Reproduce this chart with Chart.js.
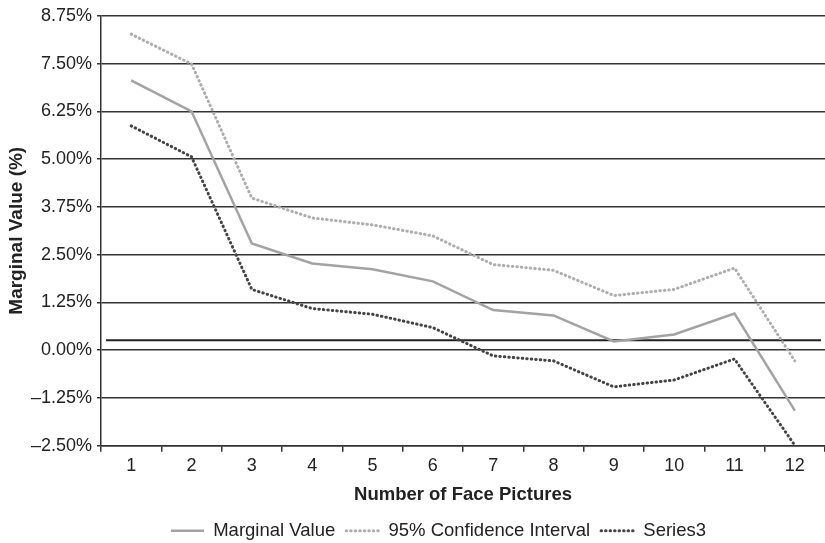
<!DOCTYPE html>
<html lang="en">
<head>
<meta charset="UTF-8" />
<title>Marginal Value</title>
<script src="https://cdn.jsdelivr.net/npm/chart.js"></script>
<style>
  html, body { margin: 0; padding: 0; background: #fff; }
  .wrap { width: 825px; height: 543px; }
</style>
</head>
<body>
<div class="wrap"><canvas id="myChart"></canvas></div>
<script>
// values
const labels = ['1', '2', '3', '4', '5', '6', '7', '8', '9', '10', '11', '12'];
const marginal = [7.06, 6.25, 2.79, 2.27, 2.12, 1.80, 1.05, 0.91, 0.23, 0.41, 0.96, -1.58];
const upper = [8.27, 7.49, 3.98, 3.46, 3.28, 2.99, 2.24, 2.09, 1.43, 1.59, 2.15, -0.28];
const series3 = [5.87, 5.06, 1.59, 1.09, 0.94, 0.59, -0.15, -0.28, -0.96, -0.78, -0.23, -2.49];
const referenceLine = 0.26;

const font = "'Liberation Sans', Arial, sans-serif";

// flat black line across the plot at the reference value
const refLinePlugin = {
  id: 'refLine',
  afterLayout(chart) {
    // the legend in the original sits a bit right of centre
    chart.legend.left += 26;
    chart.legend.right += 26;
  },
  beforeDatasetsDraw(chart) {
    const { ctx, chartArea } = chart;
    const y = chart.scales.y.getPixelForValue(referenceLine);
    ctx.save();
    ctx.strokeStyle = '#222';
    ctx.lineWidth = 2;
    ctx.beginPath();
    ctx.moveTo(chartArea.left + 5, y);
    ctx.lineTo(chartArea.right - 4, y);
    ctx.stroke();
    ctx.restore();
  }
};

const ctx = document.getElementById('myChart');

new Chart(ctx, {
  type: 'line',
  data: {
    labels: labels,
    datasets: [
      {
        label: 'Marginal Value',
        data: marginal,
        borderColor: '#a3a3a3',
        borderWidth: 2.5,
        pointRadius: 0,
        tension: 0
      },
      {
        label: '95% Confidence Interval',
        data: upper,
        borderColor: '#adadad',
        borderWidth: 3,
        borderDash: [0.5, 4],
        borderCapStyle: 'round',
        pointRadius: 0,
        tension: 0
      },
      {
        label: 'Series3',
        data: series3,
        borderColor: '#444',
        borderWidth: 3,
        borderDash: [0.5, 4],
        borderCapStyle: 'round',
        pointRadius: 0,
        tension: 0
      }
    ]
  },
  options: {
    responsive: true,
    maintainAspectRatio: false,
    animation: false,
    layout: { padding: { top: 8, right: 0, left: 0, bottom: -7 } },
    plugins: {
      tooltip: { enabled: false },
      legend: {
        position: 'bottom',
        labels: {
          usePointStyle: true,
          pointStyle: 'line',
          pointStyleWidth: 33,
          boxWidth: 33,
          color: '#222',
          padding: 11,
          font: { family: font, size: 18.5 },
          generateLabels(chart) {
            return chart.data.datasets.map((ds, i) => ({
              text: ds.label,
              datasetIndex: i,
              fillStyle: ds.borderColor,
              strokeStyle: ds.borderColor,
              lineWidth: ds.borderWidth,
              lineDash: ds.borderDash || [],
              lineCap: ds.borderCapStyle || 'butt',
              pointStyle: 'line',
              fontColor: '#222',
              hidden: false
            }));
          }
        }
      }
    },
    scales: {
      x: {
        offset: true,
        grid: {
          offset: true,
          drawOnChartArea: false,
          color: '#333',
          lineWidth: 1.5,
          tickLength: 6
        },
        border: { color: '#333', width: 1.5 },
        ticks: { color: '#222', padding: 4, font: { family: font, size: 18 } },
        title: {
          display: true,
          text: 'Number of Face Pictures',
          color: '#222',
          padding: { top: 3, bottom: 4 },
          font: { family: font, size: 18.5, weight: 'bold' }
        }
      },
      y: {
        min: -2.5,
        max: 8.75,
        afterFit(scale) { scale.width = 101; },
        grid: {
          color: '#333',
          lineWidth: 1.5,
          tickLength: 4
        },
        border: { color: '#333', width: 1.5 },
        ticks: {
          stepSize: 1.25,
          color: '#222',
          padding: 5,
          font: { family: font, size: 18 },
          callback: (v) => (v < 0 ? '\u2013' + Math.abs(v).toFixed(2) : v.toFixed(2)) + '%'
        },
        title: {
          display: true,
          text: 'Marginal Value (%)',
          color: '#222',
          padding: { top: 5, bottom: 4 },
          font: { family: font, size: 19, weight: 'bold' }
        }
      }
    }
  },
  plugins: [refLinePlugin]
});
</script>
</body>
</html>
